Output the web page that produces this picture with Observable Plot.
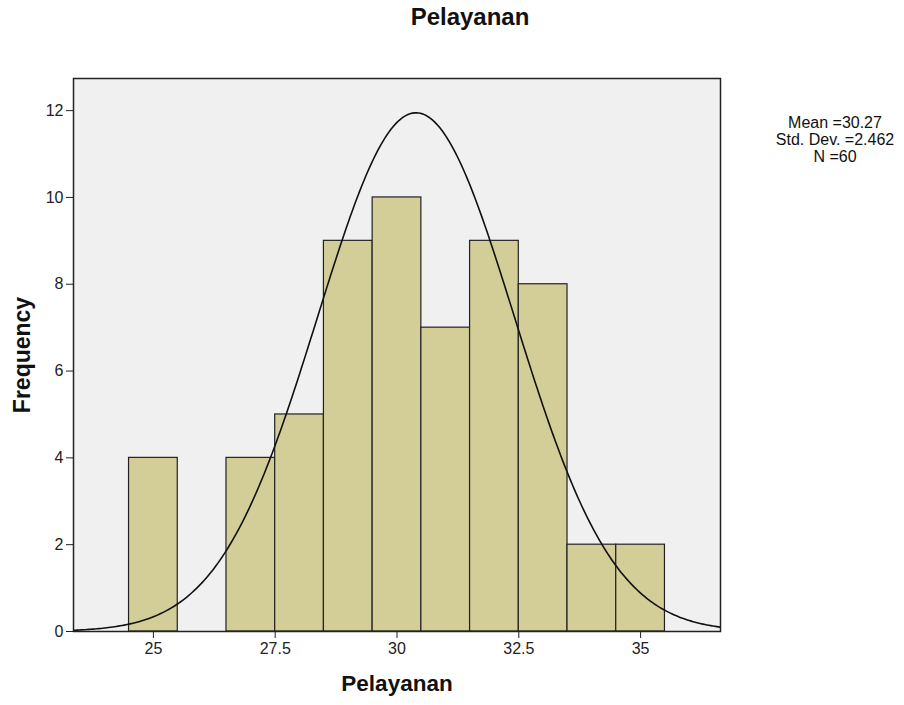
<!DOCTYPE html>
<html>
<head>
<meta charset="utf-8">
<script src="https://cdn.jsdelivr.net/npm/d3@7"></script>
<script src="https://cdn.jsdelivr.net/npm/@observablehq/plot@0.6"></script>
<style>
  body { margin: 0; background: #fff; font-family: Arial, "Liberation Sans", sans-serif; }
  #wrap { position: relative; width: 904px; height: 705px; }
  #title { position: absolute; left: 0; width: 940px; top: 3px; text-align: center; font-size: 24px; font-weight: bold; color: #111; }
  #stats { position: absolute; left: 755px; width: 160px; top: 114px; text-align: center; font-size: 16px; line-height: 17px; color: #111; }
  #chart { position: absolute; left: 0; top: 0; }
</style>
</head>
<body>
<div id="wrap">
  <div id="chart"></div>
  <div id="title">Pelayanan</div>
  <div id="stats">Mean =30.27<br>Std. Dev. =2.462<br>N =60</div>
</div>
<script>
// Histogram bins (lower edge, upper edge) and frequencies
const binLower = [24.5, 26.5, 27.5, 28.5, 29.5, 30.5, 31.5, 32.5, 33.5, 34.5];
const binUpper = [25.5, 27.5, 28.5, 29.5, 30.5, 31.5, 32.5, 33.5, 34.5, 35.5];
const frequency = [4, 4, 5, 9, 10, 7, 9, 8, 2, 2];
const xTicks = [25, 27.5, 30, 32.5, 35];
const yTicks = [0, 2, 4, 6, 8, 10, 12];
const xDomain = [23.36, 36.64];
const yDomain = [0, 12.74];
// Normal curve as drawn in the picture
const curveCenter = 30.39;
const curveSpread = 2.02;
const curvePeak = 11.95;

const bars = binLower.map((b, i) => ({x1: b, x2: binUpper[i], y: frequency[i]}));
const curve = d3.range(xDomain[0], xDomain[1] + 0.001, 0.04).map(x => ({
  x, y: curvePeak * Math.exp(-((x - curveCenter) ** 2) / (2 * curveSpread ** 2))
}));

const plot = Plot.plot({
  width: 904,
  height: 705,
  marginLeft: 73,
  marginRight: 184,
  marginTop: 78,
  marginBottom: 74,
  style: {fontFamily: "Arial, 'Liberation Sans', sans-serif", fontSize: "16px", color: "#222", background: "transparent"},
  x: {domain: xDomain, ticks: xTicks, tickFormat: d => String(d), tickSize: 7, tickPadding: 4, label: null},
  y: {domain: yDomain, ticks: yTicks, tickFormat: d => String(d), tickSize: 7, tickPadding: 3, label: null},
  marks: [
    Plot.frame({fill: "#f0f0f0", stroke: null}),
    Plot.rect(bars, {x1: "x1", x2: "x2", y1: 0, y2: "y", fill: "#d3ce98", stroke: "#222", strokeWidth: 1.2, inset: 0}),
    Plot.line(curve, {x: "x", y: "y", stroke: "#111", strokeWidth: 1.6, clip: true}),
    Plot.frame({stroke: "#222", strokeWidth: 1.5}),
    Plot.axisX({ticks: xTicks, tickFormat: d => String(d), tickSize: 7, tickPadding: 4, label: null, stroke: "#222"}),
    Plot.axisY({ticks: yTicks, tickFormat: d => String(d), tickSize: 7, tickPadding: 3, label: null, stroke: "#222"}),
    Plot.text(["Pelayanan"], {frameAnchor: "bottom", dy: 59, text: d => d, fontSize: 22.5, fontWeight: "bold", fill: "#111"}),
    Plot.text(["Frequency"], {frameAnchor: "left", dx: -51, rotate: -90, textAnchor: "middle", text: d => d, fontSize: 23, fontWeight: "bold", fill: "#111"})
  ]
});
document.getElementById("chart").appendChild(plot);
</script>
</body>
</html>
